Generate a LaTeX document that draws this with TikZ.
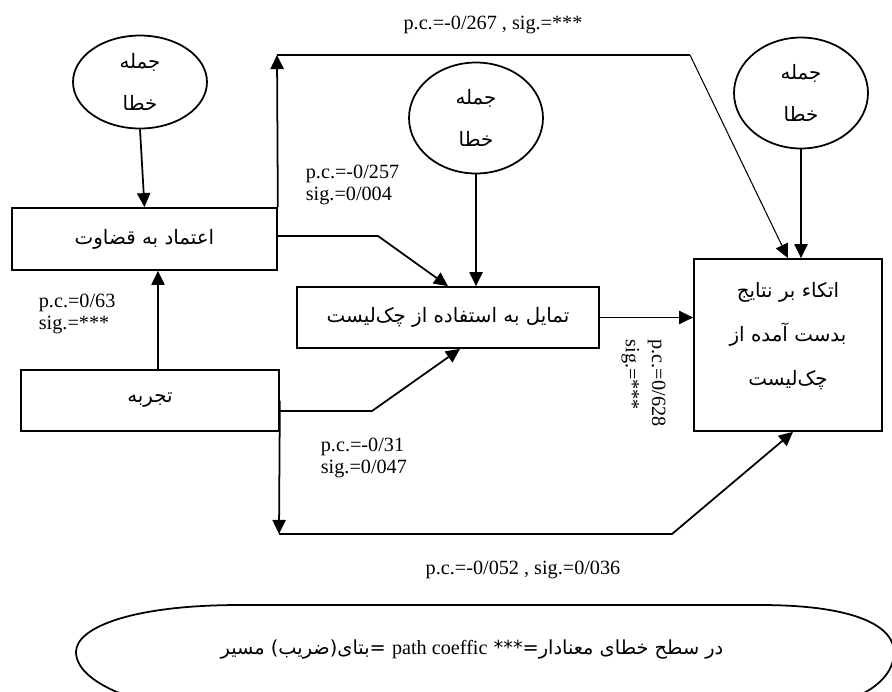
\documentclass[tikz,border=0pt]{standalone}
\usepackage{fontspec}
\setmainfont{Liberation Serif}
\newfontfamily\farsi[Script=Arabic]{DejaVu Sans}
\TeXXeTstate=1
\usetikzlibrary{shapes,arrows.meta,positioning,calc}
\newcommand{\fa}[1]{{\farsi\beginR #1\endR}}

\begin{document}
\begin{tikzpicture}[x=0.02cm, y=-0.02cm, line width=1pt, >={Triangle[length=8pt,width=7.5pt]}]

    % Define block styles
    \tikzstyle{block} = [draw, rectangle, inner sep=0pt, align=center, font=\fontsize{11.3}{25}\selectfont]
    \tikzstyle{errterm} = [draw, ellipse, inner sep=0pt, align=center, minimum width=2.68cm, font=\fontsize{11.3}{24}\selectfont]
    \tikzstyle{coef} = [inner sep=0pt, align=left, font=\fontsize{11.5}{12.5}\selectfont]

    \useasboundingbox (0,0) rectangle (892,691);

    % Error terms
    \node[errterm, minimum height=1.86cm] (err1) at (140,82) {\fa{جمله}\\\fa{خطا}};
    \node[errterm, minimum height=2.22cm] (err2) at (476,118) {\fa{جمله}\\\fa{خطا}};
    \node[errterm, minimum height=2.22cm] (err3) at (801,93) {\fa{جمله}\\\fa{خطا}};

    % Variables
    \node[block, minimum width=5.3cm, minimum height=1.24cm] (trust) at (144.5,239) {\fa{اعتماد به قضاوت}};
    \node[block, minimum width=6.04cm, minimum height=1.22cm] (will) at (448,317.5) {\fa{تمایل به استفاده از چک‌لیست}};
    \node[block, minimum width=3.76cm, minimum height=3.44cm] (rely) at (788,345) {};
    \node[align=center, font=\fontsize{11.3}{25}\selectfont] (relyText) at ($(rely)+(0,-9)$) {\fa{اتکاء بر نتایج}\\\fa{بدست آمده از}\\\fa{چک‌لیست}};
    \node[block, minimum width=5.16cm, minimum height=1.22cm] (exper) at (150,400.5) {\fa{تجربه}};

    \draw[->] (err1.south) -- (trust.north);
    \draw[->] (err2.south) -- (err2.south |- will.north);
    \draw[->] (err3.south) -- (err3.south |- rely.north);

    % Paths
    \coordinate (topL) at (277,55);
    \coordinate (topR) at (690,55);
    \draw[->] (trust.north east) -- (topL);
    \draw (topL) -- (topR);
    \draw[->, line width=0.6pt] (topR) -- (rely.north);

    \coordinate (k1) at (378,236);
    \draw[->] (trust.east |- k1) -- (k1) -- (will.north);

    \coordinate (k2) at (372,411);
    \coordinate (k2end) at ($(will.south)+(12,0)$);
    \draw[->] (exper.east |- k2) -- (k2) -- (k2end);

    \draw[->] (will.east) -- (will.east -| rely.west);

    \coordinate (c0) at ($(exper.north)+(8,0)$);
    \draw[->] (c0) -- (c0 |- trust.south);

    \coordinate (botL) at (279,534);
    \coordinate (botR) at (672,534);
    \coordinate (botEnd) at ($(rely.south)+(5,0)$);
    \draw[->] (exper.east) -- (botL);
    \draw[->] (botL) -- (botR) -- (botEnd);

    % Coefficients
    \node[coef] (pcTop) at (493,25) {p.c.=-0/267 , sig.=***};
    \node[coef, anchor=west] (pcTW) at (305,185) {p.c.=-0/257\\sig.=0/004};
    \node[coef, anchor=west] (pcET) at (38,314) {p.c.=0/63\\sig.=***};
    \node[coef, anchor=west] (pcEW) at (320,458) {p.c.=-0/31\\sig.=0/047};
    \node[coef, rotate=-90, font=\fontsize{11.5}{15}\selectfont] (pcWR) at (643.5,383) {p.c.=0/628\\sig.=***};
    \node[coef] (pcBot) at (523,570) {p.c.=-0/052 , sig.=0/036};

    % Legend
    \draw (240,605) -- (760,605) .. controls (860,605) and (894,628) .. (894,652)
        .. controls (894,685) and (850,715) .. (740,715) -- (260,715)
        .. controls (150,715) and (76,685) .. (76,652)
        .. controls (76,628) and (130,605) .. (240,605) -- cycle;
    \node[font=\fontsize{11}{12}\selectfont] (legend) at (472,650) {\fa{در سطح خطای  معنادار=*** \beginL{\rmfamily\fontsize{11.5}{12}\selectfont path coeffic}\endL{} =بتای(ضریب) مسیر}};

\end{tikzpicture}
\end{document}
